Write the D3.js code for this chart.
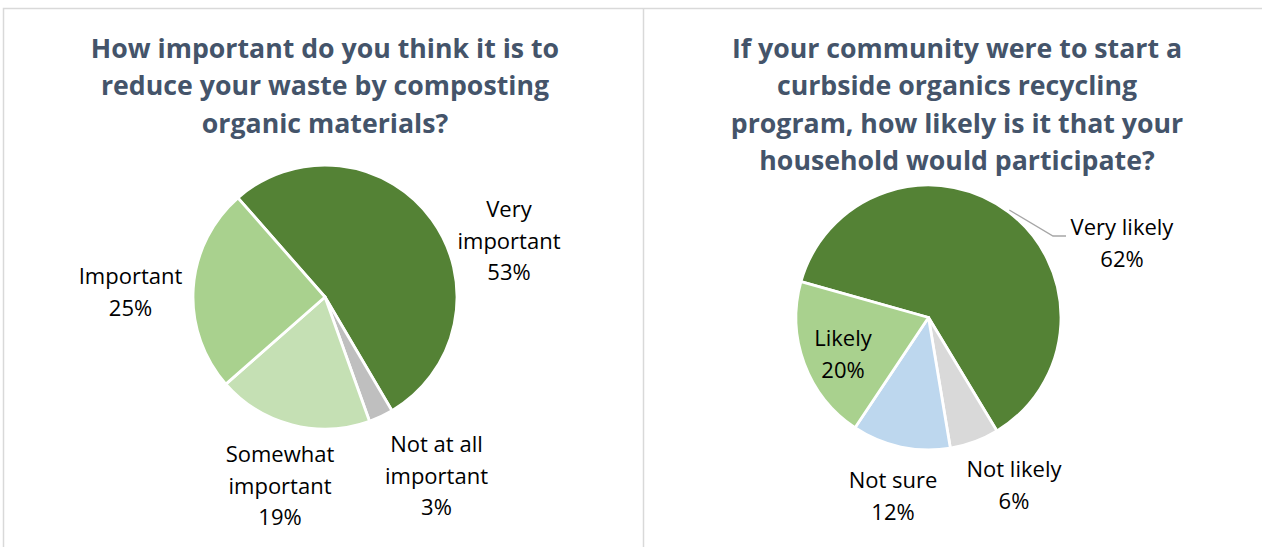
<!DOCTYPE html>
<html>
<head>
<meta charset="utf-8">
<script src="https://cdn.jsdelivr.net/npm/d3@7"></script>
<style>
  html, body { margin: 0; padding: 0; background: #fff; }
  svg { display: block; }
</style>
</head>
<body>
<svg id="chart" width="1262" height="547"></svg>
<script>
// Survey question 1: importance of composting
const compostTitle = ["How important do you think it is to", "reduce your waste by composting", "organic materials?"];
const compostCategories = ["Very important", "Not at all important", "Somewhat important", "Important"];
const compostLabelLines = [["Very", "important"], ["Not at all", "important"], ["Somewhat", "important"], ["Important"]];
const compostValues = [53, 3, 19, 25];
const compostColors = ["#548235", "#BFBFBF", "#C5E0B4", "#A9D18E"];

// Survey question 2: likelihood of joining a curbside organics program
const curbsideTitle = ["If your community were to start a", "curbside organics recycling", "program, how likely is it that your", "household would participate?"];
const curbsideCategories = ["Very likely", "Not likely", "Not sure", "Likely"];
const curbsideLabelLines = [["Very likely"], ["Not likely"], ["Not sure"], ["Likely"]];
const curbsideValues = [62, 6, 12, 20];
const curbsideColors = ["#548235", "#D9D9D9", "#BDD7EE", "#A9D18E"];

const svg = d3.select("#chart");
const W = 1262, H = 547;
const deg = Math.PI / 180;

svg.append("rect").attr("width", W).attr("height", H).attr("fill", "#fff");

// panel frames
const frame = svg.append("g").attr("fill", "none").attr("stroke", "#D9D9D9").attr("stroke-width", 1.5);
frame.append("path").attr("d", `M3.5,${H + 2}V8.5H${W + 2}`);
frame.append("path").attr("d", `M643.5,8.5V${H + 2}`);

const textFont = "'Open Sans', 'Noto Sans', sans-serif";

function drawPie(opts) {
  const g = svg.append("g");

  // title
  const title = g.append("text")
    .attr("font-family", textFont)
    .attr("font-weight", 700)
    .attr("font-size", 26.7)
    .attr("fill", "#44546A")
    .attr("text-anchor", "middle");
  opts.title.forEach((line, i) => {
    title.append("tspan").attr("x", opts.titleX).attr("y", 58 + i * 37.3).text(line);
  });

  const data = opts.categories.map((c, i) => ({
    category: c, value: opts.values[i], color: opts.colors[i], lines: opts.labelLines[i]
  }));

  const pie = d3.pie().value(d => d.value).sort(null)
    .startAngle(opts.startDeg * deg).endAngle(opts.startDeg * deg + 2 * Math.PI);
  const arc = d3.arc().innerRadius(0).outerRadius(opts.r);
  const arcs = pie(data);

  const pg = g.append("g").attr("transform", `translate(${opts.cx},${opts.cy})`);
  pg.selectAll("path.slice").data(arcs).join("path")
    .attr("class", "slice")
    .attr("d", arc)
    .attr("fill", d => d.data.color)
    .attr("stroke", "#fff")
    .attr("stroke-width", 2.8)
    .attr("stroke-linejoin", "round");

  // leader lines
  arcs.forEach((a, i) => {
    const lead = opts.leaders[i];
    if (!lead) return;
    const p0 = d3.pointRadial(lead.angleDeg * deg, opts.r + 2);
    pg.append("polyline")
      .attr("points", [p0, lead.elbow, lead.end].map(p => p.join(",")).join(" "))
      .attr("fill", "none").attr("stroke", "#A6A6A6").attr("stroke-width", 1.3);
  });

  // data labels
  arcs.forEach((a, i) => {
    const pos = opts.labelPos[i];
    const t = pg.append("text")
      .attr("font-family", textFont)
      .attr("font-size", 22)
      .attr("fill", "#000")
      .attr("text-anchor", "middle");
    const lines = a.data.lines.concat([d3.format(".0f")(a.data.value) + "%"]);
    lines.forEach((line, j) => {
      t.append("tspan").attr("x", pos[0]).attr("y", pos[1] + j * opts.lineH).text(line);
    });
  });
}

drawPie({
  title: compostTitle, titleX: 325,
  categories: compostCategories, values: compostValues, colors: compostColors, labelLines: compostLabelLines,
  cx: 325, cy: 297, r: 132, startDeg: -41.3, lineH: 31.5,
  labelPos: [[184, -80], [111.5, 155], [-45, 165], [-194.5, -13]],
  leaders: []
});

drawPie({
  title: curbsideTitle, titleX: 957,
  categories: curbsideCategories, values: curbsideValues, colors: curbsideColors, labelLines: curbsideLabelLines,
  cx: 928.5, cy: 317.5, r: 132.5, startDeg: -74.3, lineH: 32,
  labelPos: [[193.5, -82.5], [85.5, 159.5], [-35.5, 170.5], [-85.5, 28.5]],
  leaders: [{ angleDeg: 36.9, elbow: [124.5, -81.5], end: [137.5, -81.5] }]
});
</script>
</body>
</html>
